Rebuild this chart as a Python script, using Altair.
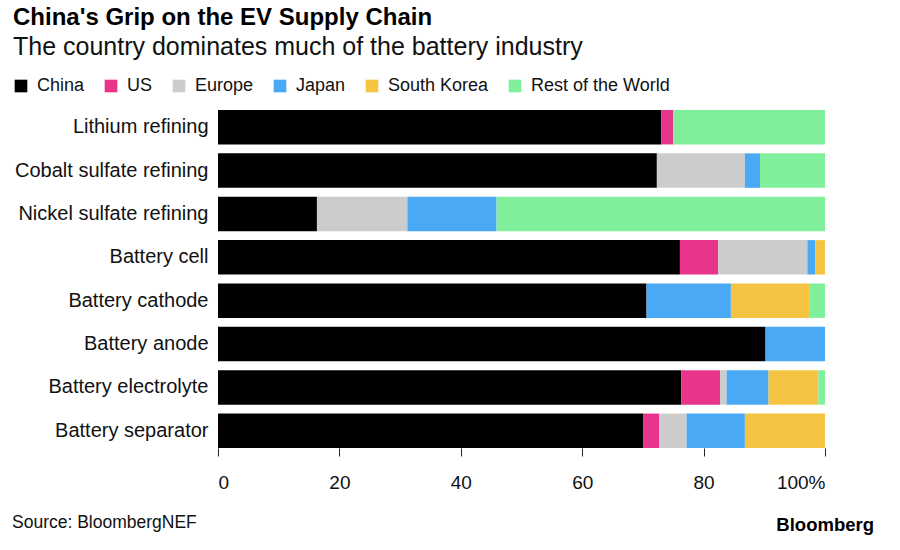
import altair as alt
import pandas as pd

# Supply-chain stages, top to bottom
stages = [
    "Lithium refining",
    "Cobalt sulfate refining",
    "Nickel sulfate refining",
    "Battery cell",
    "Battery cathode",
    "Battery anode",
    "Battery electrolyte",
    "Battery separator",
]

regions = ["China", "US", "Europe", "Japan", "South Korea", "Rest of the World"]
region_colors = ["#000000", "#e8358b", "#cccccc", "#4aa9f5", "#f5c443", "#80ef9b"]

# Share of global capacity (%) per stage, in the order of `stages`
china = [73.0, 72.3, 16.3, 76.1, 70.6, 90.2, 76.3, 70.1]
us = [2.0, 0.0, 0.0, 6.3, 0.0, 0.0, 6.4, 2.6]
europe = [0.0, 14.5, 14.9, 14.7, 0.0, 0.0, 1.1, 4.5]
japan = [0.0, 2.5, 14.7, 1.3, 13.9, 9.8, 6.9, 9.6]
south_korea = [0.0, 0.0, 0.0, 1.6, 13.0, 0.0, 8.2, 13.2]
rest_of_world = [25.0, 10.7, 54.1, 0.0, 2.5, 0.0, 1.1, 0.0]

series = [china, us, europe, japan, south_korea, rest_of_world]

rows = []
for r_idx, (region, values) in enumerate(zip(regions, series)):
    for stage, v in zip(stages, values):
        rows.append({"stage": stage, "region": region, "share": v, "order": r_idx})
df = pd.DataFrame(rows)

FONT = "Liberation Sans"
W, H = 607, 338
LEFT, TOP = 218, 110

bars = (
    alt.Chart(df)
    .mark_bar()
    .encode(
        x=alt.X(
            "share:Q",
            stack="zero",
            scale=alt.Scale(domain=[0, 100], nice=False),
            axis=alt.Axis(
                values=[0, 20, 40, 60, 80, 100],
                labelExpr="datum.value == 100 ? '100%' : datum.label",
                title=None,
                grid=False,
                domain=False,
                ticks=True,
                tickSize=8,
                tickColor="#222222",
                labelPadding=17,
                labelFontSize=19,
                labelColor="#111111",
                labelFont=FONT,
            ),
        ),
        y=alt.Y(
            "stage:N",
            sort=stages,
            scale=alt.Scale(paddingInner=0.206, paddingOuter=0),
            axis=alt.Axis(
                title=None,
                ticks=False,
                domain=False,
                labelPadding=10,
                labelFontSize=20,
                labelColor="#111111",
                labelFont=FONT,
                labelLimit=400,
            ),
        ),
        color=alt.Color(
            "region:N",
            scale=alt.Scale(domain=regions, range=region_colors),
            legend=alt.Legend(
                title=None,
                orient="none",
                direction="horizontal",
                legendX=-206,
                legendY=-33,
                symbolType="square",
                symbolSize=160,
                symbolStrokeWidth=0,
                symbolOpacity=1,
                labelFontSize=18,
                labelFont=FONT,
                labelColor="#111111",
                labelOffset=7,
                columnPadding=17,
                padding=0,
            ),
        ),
        order=alt.Order("order:Q", sort="ascending"),
    )
)

# Headline, subtitle and footer text
title = alt.Chart(pd.DataFrame({"t": ["China's Grip on the EV Supply Chain"]})).mark_text(
    align="left", baseline="alphabetic", fontSize=24, fontWeight="bold", font=FONT, color="#000000"
).encode(text="t:N", x=alt.value(13 - LEFT), y=alt.value(25 - TOP))

subtitle = alt.Chart(pd.DataFrame({"t": ["The country dominates much of the battery industry"]})).mark_text(
    align="left", baseline="alphabetic", fontSize=25, font=FONT, color="#111111"
).encode(text="t:N", x=alt.value(13 - LEFT), y=alt.value(55 - TOP))

source = alt.Chart(pd.DataFrame({"t": ["Source: BloombergNEF"]})).mark_text(
    align="left", baseline="alphabetic", fontSize=17.5, font=FONT, color="#111111"
).encode(text="t:N", x=alt.value(12 - LEFT), y=alt.value(528 - TOP))

brand = alt.Chart(pd.DataFrame({"t": ["Bloomberg"]})).mark_text(
    align="right", baseline="alphabetic", fontSize=18.5, fontWeight="bold", font=FONT, color="#000000"
).encode(text="t:N", x=alt.value(874 - LEFT), y=alt.value(531 - TOP))

chart = (
    alt.layer(bars, title, subtitle, source, brand)
    .properties(
        width=W,
        height=H,
        autosize=alt.AutoSizeParams(type="none"),
        padding={"left": LEFT, "top": TOP, "right": 900 - LEFT - W, "bottom": 550 - TOP - H},
        background="#ffffff",
    )
    .configure_view(stroke=None)
)

chart.save("out.html", embed_options={"renderer": "svg", "actions": False})
